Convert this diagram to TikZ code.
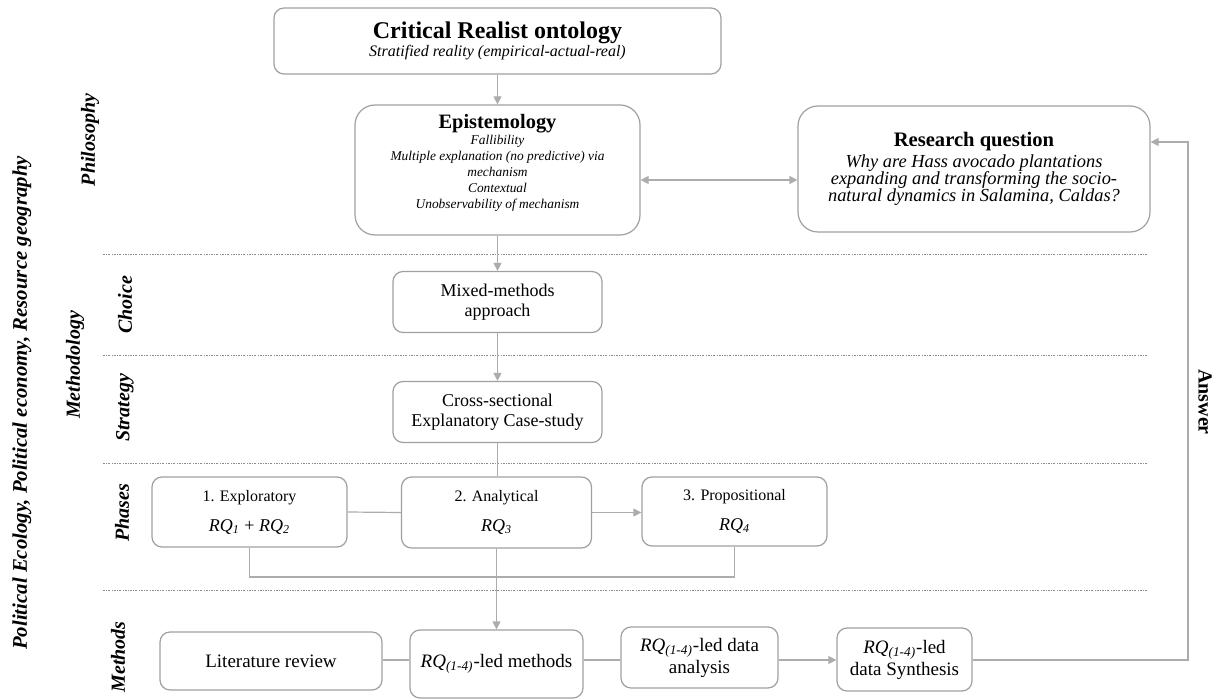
\documentclass[tikz,border=0pt]{standalone}
\usepackage{fontspec}
\setmainfont{Liberation Serif}
\usetikzlibrary{arrows.meta}
\definecolor{boxgray}{RGB}{160,160,160}
\definecolor{linegray}{RGB}{172,172,172}
\definecolor{sepgray}{RGB}{140,140,140}
\newcommand{\fsz}[2]{\fontsize{#1}{#2}\selectfont}
\newcommand{\rqsub}[1]{\textit{RQ}\textsubscript{\textit{#1}}}
\begin{document}
\begin{tikzpicture}[x=0.5pt,y=-0.5pt,
    box/.style={draw=boxgray,line width=0.6pt,rounded corners=5pt,align=center,inner sep=1pt,font=\fsz{9}{10}},
    bigbox/.style={box,rounded corners=10pt},
    conn/.style={draw=linegray,line width=0.6pt},
    arr/.style={conn,-{Triangle[length=4pt,width=4pt]}},
    sepline/.style={draw=sepgray,line width=0.4pt,dash pattern=on 1pt off 0.7pt on 0.3pt off 0.7pt},
    side/.style={font=\fsz{10}{12}\bfseries\itshape}]
\useasboundingbox (0,0) rectangle (1216,700);

% Philosophy
\node[box,minimum width=223.5pt,minimum height=33pt,font=\fsz{8}{10}\itshape] (ontology) at (497.5,41)
  {{\fsz{12}{14}\upshape\bfseries Critical Realist ontology}\\[-1pt]Stratified reality (empirical-actual-real)};
\node[bigbox,minimum width=142.5pt,minimum height=65pt] (epist) at (497.5,170) {};
\node[align=center,inner sep=0pt,font=\fsz{6.7}{8}\itshape] (epistext) at (497.5,163)
  {{\fsz{10.2}{12}\upshape\bfseries Epistemology}\\ Fallibility\\ Multiple explanation (no predictive) via\\ mechanism\\ Contextual\\ Unobservability of mechanism};
\node[bigbox,minimum width=176pt,minimum height=63pt,font=\fsz{9.2}{8.5}\itshape] (rq) at (974,169)
  {{\fsz{10.3}{12}\upshape\bfseries Research question}\\[1pt] Why are Hass avocado plantations\\ expanding and transforming the socio-\\ natural dynamics in Salamina, Caldas?};

% Choice and strategy
\node[box,minimum width=104.5pt,minimum height=30.5pt] (mixed) at (497.5,302) {Mixed-methods\\ approach};
\node[box,minimum width=104.5pt,minimum height=30.5pt] (strategy) at (497.5,412) {Cross-sectional\\ Explanatory Case-study};

% Phases
\node[box,minimum width=97.5pt,minimum height=35pt] (explor) at (249.5,512)
  {{\fsz{8}{10}1. Exploratory}\\[5pt] \rqsub{1} + \rqsub{2}};
\node[box,minimum width=95pt,minimum height=35.5pt] (analyt) at (496.5,512.5)
  {{\fsz{8}{10}2. Analytical}\\[5pt] \rqsub{3}};
\node[box,minimum width=92.5pt,minimum height=34.5pt] (propos) at (734.5,511.5)
  {{\fsz{8}{10}3. Propositional}\\[5pt] \rqsub{4}};

% Methods
\node[box,minimum width=111pt,minimum height=29pt,font=\fsz{9.5}{11}] (litrev) at (271,661) {Literature review};
\node[box,minimum width=86.5pt,minimum height=34pt,font=\fsz{9.5}{11}] (rqmethods) at (496.5,664) {\rqsub{(1-4)}-led methods};
\node[box,minimum width=78.5pt,minimum height=30.5pt,font=\fsz{9.5}{11}] (analysis) at (699.5,657.5) {\rqsub{(1-4)}-led data\\ analysis};
\node[box,minimum width=67.5pt,minimum height=31.5pt,font=\fsz{9.5}{11}] (synthesis) at (904.5,659.5) {\rqsub{(1-4)}-led\\ data Synthesis};

% Separators
\foreach \y in {254,355,463,590}
  \draw[sepline] (103,\y) -- (1147,\y);

% Side labels
\node[side,font=\fsz{10.4}{12}\bfseries\itshape,rotate=90] (fields) at (22,403) {Political Ecology, Political economy, Resource geography};
\node[side,rotate=90] (methodology) at (75,365) {Methodology};
\node[side,rotate=90] (philosophy) at (90,140) {Philosophy};
\node[side,rotate=90] (choice) at (125,305) {Choice};
\node[side,rotate=90] (strat) at (125,408) {Strategy};
\node[side,rotate=90] (phases) at (122,513) {Phases};
\node[side,rotate=90] (methods) at (118,657) {Methods};
\node[font=\fsz{10}{12}\bfseries,rotate=-90] (answer) at (1205,402) {Answer};

% Connectors
\coordinate (mrow) at (0,660);
\coordinate (ansx) at (1188,0);
\coordinate (join) at (0,577);
\draw[arr] (ontology) -- (epist);
\draw[conn,{Triangle[length=4pt,width=4pt]}-{Triangle[length=4pt,width=4pt]}] ([yshift=-5pt]epist.east) -- ([yshift=-5.5pt]rq.west);
\draw[arr] (epist) -- (mixed);
\draw[arr] (mixed) -- (strategy);
\draw[conn] (strategy.south) -- (strategy.south |- analyt.north);
\draw[conn] (explor.east) -- (analyt.west);
\draw[arr] (analyt.east) -- (analyt.east -| propos.west);
\draw[conn] (explor.south) |- (join -| propos.south) -- (propos.south);
\draw[arr] (analyt.south) -- (rqmethods.north);
\draw[conn] (litrev.east |- mrow) -- (rqmethods.west |- mrow);
\draw[conn] (rqmethods.east |- mrow) -- (analysis.west |- mrow);
\draw[arr] (analysis.east |- mrow) -- (synthesis.west |- mrow);
\draw[arr] (synthesis.east |- mrow) -- (ansx |- mrow) -- (ansx |- 0,142) -- (rq.east |- 0,142);
\end{tikzpicture}
\end{document}
